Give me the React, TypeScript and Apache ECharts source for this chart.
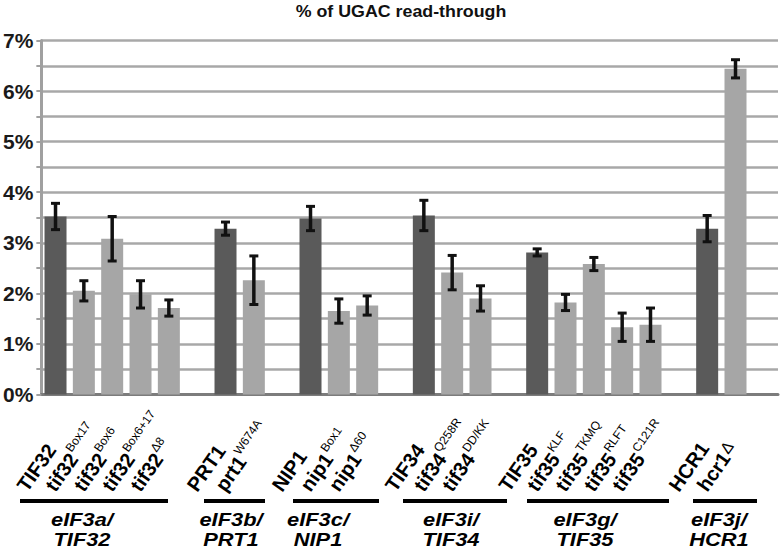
import React, { useEffect, useRef } from 'react';
import * as echarts from 'echarts';

const chartTitle = '% of UGAC read-through';
const strains = ['TIF32', 'tif32', 'tif32', 'tif32', 'tif32', 'PRT1', 'prt1', 'NIP1', 'nip1', 'nip1', 'TIF34', 'tif34', 'tif34', 'TIF35', 'tif35', 'tif35', 'tif35', 'tif35', 'HCR1', 'hcr1'];
const alleles = ['', 'Box17', 'Box6', 'Box6+17', 'Δ8', '', 'W674A', '', 'Box1', 'Δ60', '', 'Q258R', 'DD/KK', '', 'KLF', 'TKMQ', 'RLFT', 'C121R', '', 'Δ'];
const readThrough = [3.52, 2.05, 3.08, 1.98, 1.71, 3.28, 2.26, 3.48, 1.65, 1.76, 3.54, 2.41, 1.90, 2.81, 1.82, 2.58, 1.33, 1.38, 3.28, 6.44];
const errorSize = [0.26, 0.20, 0.44, 0.27, 0.16, 0.13, 0.48, 0.24, 0.24, 0.19, 0.30, 0.34, 0.25, 0.07, 0.16, 0.13, 0.28, 0.33, 0.26, 0.18];
const wildType = [true, false, false, false, false, true, false, true, false, false, true, false, false, true, false, false, false, false, true, false];
const groupSizes = [5, 2, 3, 3, 5, 2];
const groupNames = ['eIF3a/\nTIF32', 'eIF3b/\nPRT1', 'eIF3c/\nNIP1', 'eIF3i/\nTIF34', 'eIF3g/\nTIF35', 'eIF3j/\nHCR1'];
const yMin = 0;
const yMax = 7;
const yStep = 0.5;

// slots: strains of each group followed by one empty slot
const categories: string[] = [];
const strainSlot: number[] = [];
{
  let k = 0;
  groupSizes.forEach((size, g) => {
    for (let i = 0; i < size; i++) {
      strainSlot.push(categories.length);
      categories.push(strains[k] + alleles[k]);
      k++;
    }
    categories.push('gap' + g);
  });
}

const DARK = '#5a5a5a';
const LIGHT = '#a6a6a6';
const FONT = '"Liberation Sans", Arial, sans-serif';

export default function App() {
  const ref = useRef<HTMLDivElement>(null);
  useEffect(() => {
    if (!ref.current) return;
    const chart = echarts.init(ref.current, null, { renderer: 'svg' });

    const barData: any[] = categories.map(() => null);
    strainSlot.forEach((slot, i) => {
      barData[slot] = { value: readThrough[i], itemStyle: { color: wildType[i] ? DARK : LIGHT } };
    });
    const errData = strainSlot.map((slot, i) => [slot, readThrough[i] - errorSize[i], readThrough[i] + errorSize[i]]);

    chart.setOption({
      animation: false,
      grid: { left: 38, right: 4, top: 40.5, bottom: 161.5, containLabel: false },
      xAxis: {
        type: 'category',
        data: categories,
        boundaryGap: true,
        axisLine: { show: true, lineStyle: { color: '#7c7c7c', width: 3 } },
        axisTick: { show: false },
        axisLabel: { show: false },
        splitLine: { show: false },
      },
      yAxis: {
        type: 'value',
        min: yMin,
        max: yMax,
        interval: yStep,
        axisLine: { show: true, lineStyle: { color: '#a0a0a0', width: 3 } },
        axisTick: { show: true, inside: false, length: 5, lineStyle: { color: '#a0a0a0', width: 2 } },
        splitLine: { show: true, lineStyle: { color: '#a8a8a8', width: 2.5 } },
        axisLabel: {
          margin: 8,
          fontFamily: FONT,
          fontWeight: 'bold',
          fontSize: 21,
          color: '#1a1a1a',
          formatter: (v: number) => (Number.isInteger(v) ? v + '%' : ''),
        },
      },
      series: [
        { type: 'bar', data: barData, barWidth: 22, silent: true },
        {
          type: 'custom',
          data: errData,
          encode: { x: 0, y: [1, 2] },
          z: 10,
          renderItem: (params: any, api: any) => {
            const x = api.coord([api.value(0), 0])[0];
            const lo = api.coord([api.value(0), api.value(1)])[1];
            const hi = api.coord([api.value(0), api.value(2)])[1];
            const w = 4.5;
            const st = { stroke: '#111', lineWidth: 3 };
            return {
              type: 'group',
              children: [
                { type: 'line', shape: { x1: x, y1: hi, x2: x, y2: lo }, style: { stroke: '#111', lineWidth: 3.5 } },
                { type: 'line', shape: { x1: x - w, y1: hi, x2: x + w, y2: hi }, style: st },
                { type: 'line', shape: { x1: x - w, y1: lo, x2: x + w, y2: lo }, style: st },
              ],
            };
          },
        },
      ],
    });

    const canvas = document.createElement('canvas');
    const ctx = canvas.getContext('2d') as CanvasRenderingContext2D;
    const mainFont = `bold 20px ${FONT}`;
    ctx.font = mainFont;

    const px = (slot: number) => chart.convertToPixel({ gridIndex: 0 }, [slot, 0]) as number[];
    const rot = 0.96;
    const ux = Math.cos(rot), uy = -Math.sin(rot); // along baseline
    const vx = -Math.sin(rot), vy = -Math.cos(rot); // upward
    const geneTexts: any[] = [];
    strainSlot.forEach((slot, i) => {
      const p = px(slot);
      const ax = p[0] - 34;
      const ay = 489;
      geneTexts.push({
        type: 'text',
        x: ax,
        y: ay,
        rotation: rot,
        style: { text: strains[i], font: mainFont, fill: '#000', verticalAlign: 'middle' },
      });
      const sup = alleles[i];
      if (sup) {
        const w = ctx.measureText(strains[i]).width + 1;
        const big = sup === 'Δ';
        const raise = big ? 3 : 7;
        geneTexts.push({
          type: 'text',
          x: ax + ux * w + vx * raise,
          y: ay + uy * w + vy * raise,
          rotation: rot,
          style: { text: sup, font: `${big ? 16 : 12}px ${FONT}`, fill: '#000', verticalAlign: 'middle' },
        });
      }
    });

    const groupLines = [
      [20, 168], [204, 265], [293, 379], [403, 507], [527, 669], [693, 757],
    ];
    const groupCenters = [82, 231, 318, 451, 585, 719];
    const underline = groupLines.map(([a, b]) => ({
      type: 'line',
      shape: { x1: a, y1: 501, x2: b, y2: 501 },
      style: { stroke: '#000', lineWidth: 4 },
    }));
    const groupText = groupNames.map((name, i) => ({
      type: 'text',
      x: groupCenters[i],
      y: 509,
      scaleX: 1.15,
      style: {
        text: name,
        align: 'center',
        verticalAlign: 'top',
        font: `italic bold 19px ${FONT}`,
        lineHeight: 20,
        fill: '#000',
      },
    }));

    chart.setOption({
      graphic: [
        {
          type: 'text',
          x: 401,
          y: 11,
          scaleX: 1.08,
          style: { text: chartTitle, align: 'center', verticalAlign: 'middle', font: `bold 16.5px ${FONT}`, fill: '#111' },
        },
        ...geneTexts,
        ...underline,
        ...groupText,
      ],
    });

    return () => chart.dispose();
  }, []);
  return <div ref={ref} style={{ width: 782, height: 556, position: 'absolute', left: 0, top: 0 }} />;
}
